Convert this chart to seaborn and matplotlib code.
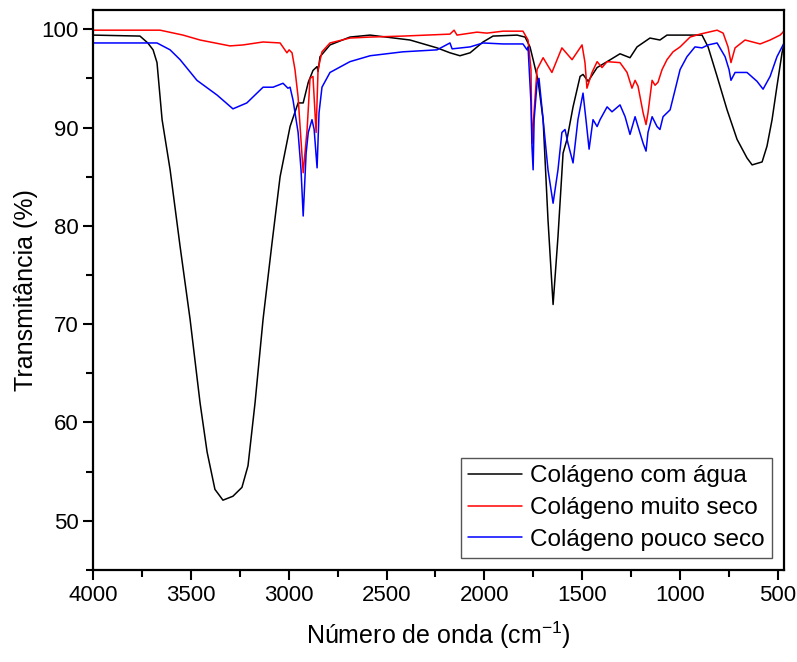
import matplotlib
matplotlib.use("Agg")
import matplotlib.pyplot as plt
from matplotlib.ticker import MultipleLocator
import seaborn as sns
import pandas as pd

# FTIR spectra (wavenumber cm-1, transmittance %)
agua_x = [4000, 3760, 3720, 3693, 3673, 3647, 3606, 3555, 3504, 3453, 3417, 3377, 3336,
          3285, 3239, 3208, 3172, 3131, 3085, 3044, 2993, 2952, 2926, 2900, 2876,
          2855, 2850, 2840, 2789, 2687, 2584, 2380, 2242, 2176, 2125, 2073, 2007,
          1956, 1833, 1792, 1767, 1751, 1726, 1700, 1675, 1649, 1624, 1598, 1578,
          1547, 1511, 1496, 1470, 1424, 1373, 1307, 1256, 1220, 1154, 1103, 1067,
          888, 857, 811, 760, 709, 658, 632, 581, 556, 530, 505, 479, 469]
agua_y = [99.4, 99.3, 98.6, 97.9, 96.6, 90.8, 85.7, 77.9, 70.5, 62.0, 57.0, 53.2, 52.1,
          52.5, 53.4, 55.6, 62.0, 70.5, 78.3, 85.0, 90.1, 92.5, 92.5, 94.6, 95.8,
          96.2, 95.7, 97.2, 98.4, 99.2, 99.4, 98.9, 98.1, 97.6, 97.3, 97.6, 98.7,
          99.3, 99.4, 99.2, 98.2, 96.9, 94.8, 90.8, 80.6, 72.0, 78.9, 87.4, 88.8,
          92.1, 95.2, 95.4, 94.7, 96.1, 96.7, 97.5, 97.1, 98.2, 99.1, 98.9, 99.4,
          99.4, 98.2, 95.2, 91.8, 88.8, 86.9, 86.2, 86.5, 88.1, 90.8, 94.2, 97.6, 98.5]

muito_x = [4000, 3657, 3540, 3453, 3300, 3233, 3131, 3044, 3009, 2998, 2983, 2968,
           2952, 2926, 2906, 2891, 2876, 2860, 2850, 2830, 2789, 2687, 2584, 2416,
           2176, 2155, 2140, 2038, 1987, 1905, 1803, 1777, 1762, 1757, 1741, 1731,
           1700, 1655, 1604, 1552, 1501, 1486, 1476, 1450, 1424, 1399, 1373, 1307,
           1271, 1246, 1230, 1215, 1189, 1174, 1164, 1143, 1128, 1113, 1092, 1067,
           1036, 1000, 949, 898, 811, 780, 755, 740, 719, 668, 591, 540, 489, 474, 469]
muito_y = [99.9, 99.9, 99.4, 98.9, 98.3, 98.4, 98.7, 98.6, 97.6, 97.9, 97.6, 95.9,
           93.1, 85.4, 89.8, 95.0, 95.2, 89.5, 95.9, 97.7, 98.6, 99.1, 99.2, 99.3,
           99.5, 99.9, 99.4, 99.7, 99.6, 99.8, 99.8, 98.9, 95.9, 88.4, 93.1, 95.9,
           97.1, 95.6, 98.1, 96.9, 98.4, 96.6, 94.0, 95.6, 96.7, 96.1, 96.7, 96.6,
           95.6, 94.0, 94.8, 94.2, 91.5, 90.3, 91.5, 94.8, 94.3, 94.6, 95.9, 96.9,
           97.7, 98.2, 99.2, 99.5, 99.9, 99.6, 98.2, 96.6, 98.1, 98.9, 98.5, 98.9,
           99.4, 99.7, 99.9]

pouco_x = [4000, 3673, 3606, 3555, 3469, 3366, 3285, 3214, 3131, 3080, 3029, 3004,
           2993, 2978, 2952, 2937, 2926, 2911, 2900, 2881, 2870, 2855, 2845, 2830,
           2789, 2687, 2584, 2416, 2242, 2176, 2165, 2073, 2007, 1905, 1803, 1782,
           1777, 1762, 1757, 1751, 1746, 1731, 1721, 1700, 1675, 1649, 1624, 1604,
           1588, 1573, 1547, 1522, 1496, 1481, 1465, 1445, 1424, 1409, 1373, 1348,
           1307, 1281, 1256, 1230, 1215, 1189, 1174, 1164, 1143, 1118, 1103, 1087,
           1051, 1026, 1000, 965, 924, 888, 857, 811, 770, 750, 740, 719, 658, 607,
           576, 540, 505, 479, 469]
pouco_y = [98.6, 98.6, 97.9, 96.9, 94.8, 93.3, 91.9, 92.5, 94.1, 94.1, 94.5, 94.0,
           94.1, 92.8, 89.5, 85.7, 81.0, 87.4, 89.5, 90.8, 89.8, 85.9, 91.5, 94.1,
           95.6, 96.7, 97.3, 97.7, 97.9, 98.6, 98.0, 98.2, 98.6, 98.5, 98.5, 97.9,
           98.2, 92.5, 88.1, 85.7, 90.8, 94.5, 95.0, 90.8, 85.7, 82.3, 85.7, 89.5,
           89.8, 88.4, 86.4, 90.8, 93.5, 90.8, 87.8, 90.8, 90.1, 90.8, 92.1, 91.6,
           92.3, 91.1, 89.3, 91.1, 90.1, 88.4, 87.6, 89.5, 91.1, 90.1, 89.8, 91.1,
           91.8, 93.8, 95.9, 97.2, 98.2, 98.1, 98.4, 98.6, 97.2, 95.9, 94.8, 95.6,
           95.6, 94.7, 93.9, 95.2, 97.2, 98.2, 98.6]

nomes = ["Colágeno com água", "Colágeno muito seco", "Colágeno pouco seco"]
cores = ["black", "red", "blue"]

df = pd.concat([
    pd.DataFrame({"x": agua_x, "y": agua_y, "amostra": nomes[0]}),
    pd.DataFrame({"x": muito_x, "y": muito_y, "amostra": nomes[1]}),
    pd.DataFrame({"x": pouco_x, "y": pouco_y, "amostra": nomes[2]}),
], ignore_index=True)

sns.set_style("ticks")
plt.rcParams['font.family'] = ['Liberation Sans', 'DejaVu Sans']
plt.rcParams['mathtext.fontset'] = 'custom'
plt.rcParams['mathtext.rm'] = 'Liberation Sans'
for k in ['text.color', 'axes.labelcolor', 'xtick.color', 'ytick.color', 'axes.edgecolor']:
    plt.rcParams[k] = 'black'

fig = plt.figure(figsize=(7.97, 6.62), dpi=100)
ax = fig.add_axes([0.1167, 0.139, 0.867, 0.8466])

sns.lineplot(data=df, x="x", y="y", hue="amostra", palette=cores,
             estimator=None, sort=False, linewidth=1.1, ax=ax)

ax.set_xlim(4000, 469)
ax.set_ylim(45, 102)
ax.xaxis.set_major_locator(MultipleLocator(500))
ax.xaxis.set_minor_locator(MultipleLocator(250))
ax.yaxis.set_major_locator(MultipleLocator(10))
ax.yaxis.set_minor_locator(MultipleLocator(5))
ax.tick_params(which="major", direction="out", length=7, width=1.5, labelsize=16)
ax.tick_params(which="minor", direction="out", length=5, width=1.5)
for s in ax.spines.values():
    s.set_linewidth(1.6)
    s.set_visible(True)

ax.set_xlabel("Número de onda (cm$^{-1}$)", fontsize=18, labelpad=10)
ax.set_ylabel("Transmitância (%)", fontsize=18, labelpad=2)

leg = ax.legend(loc="lower right", bbox_to_anchor=(0.983, 0.021), fontsize=17.5,
                frameon=True, fancybox=False, edgecolor="#555555", framealpha=1,
                handlelength=2.2, handletextpad=0.35, labelspacing=0.4,
                borderpad=0.3, borderaxespad=0)
leg.get_frame().set_linewidth(1.0)

fig.savefig("out.png", dpi=100)
